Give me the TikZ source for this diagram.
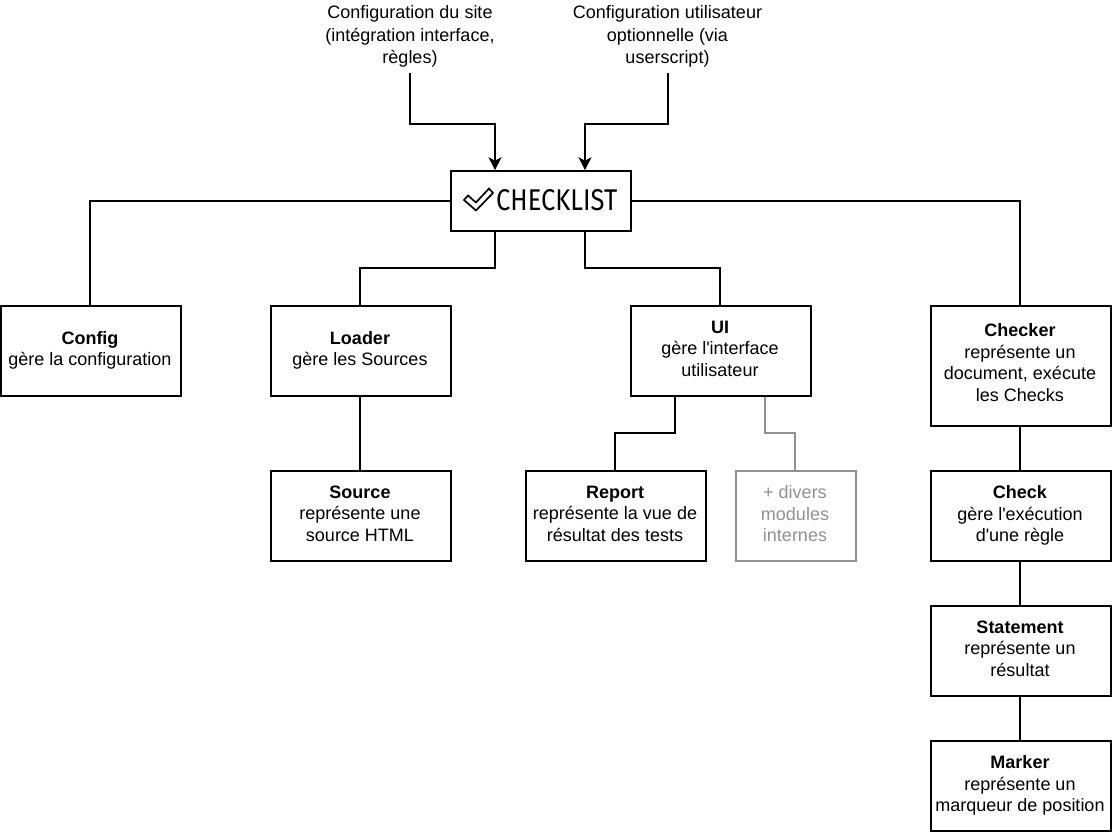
\documentclass[tikz,border=0pt]{standalone}
\usepackage{fontspec}
\setmainfont{Liberation Sans}
\newfontfamily\logofont{Fira Sans}
\usetikzlibrary{arrows.meta,calc}
\definecolor{mutedgray}{RGB}{145,145,145}
\newcommand{\liftfive}{\\[-16.6pt]\mbox{}}
\newcommand{\liftseven}{\\[-14.6pt]\mbox{}}
\tikzset{
  x=1pt,y=-1pt,
  modbox/.style={draw=black,line width=1.6pt,fill=white,minimum width=180pt,minimum height=90pt,text width=180pt,align=center,inner sep=0pt,font=\fontsize{18pt}{21.6pt}\selectfont,text=black,execute at begin node={\centering\rightskip=2pt plus 1fil\relax\spaceskip=0pt\relax\xspaceskip=0pt\relax}},
  mutedbox/.style={modbox,draw=mutedgray,text=mutedgray,minimum width=120pt,text width=120pt},
  link/.style={draw=black,line width=1.6pt},
  mutedlink/.style={draw=mutedgray,line width=1.6pt},
  inarrow/.style={link,-{Stealth[length=13pt,width=13pt,inset=3.5pt]}},
  caption/.style={align=center,inner sep=0pt,font=\fontsize{18pt}{22.3pt}\selectfont,text=black},
}
\begin{document}
\begin{tikzpicture}
\useasboundingbox (0,0) rectangle (1112,832);
\fill[white] (0,0) rectangle (1112,832);

\node[caption] (siteconf) at (410,36.5) {Configuration du site\\(intégration interface,\\règles)};
\node[caption] (userconf) at (667.5,36.5) {Configuration utilisateur\\optionnelle (via\\userscript)};

\node[modbox,minimum height=60pt] (checklist) at (541,201) {};
\node[inner sep=0pt,anchor=west] (logotext) at (496,200.5) {\resizebox{121pt}{21pt}{\logofont CHECKLIST}};
\draw[line width=1.7pt,line join=miter] (464,200) -- (468,195.5) -- (476,202.5) -- (489,188.5) -- (493,193) -- (476,210.5) -- cycle;

\node[modbox] (config) at (91,351) {\textbf{Config}\\gère la configuration\liftfive};
\node[modbox] (loader) at (361,351) {\textbf{Loader}\\gère les Sources\liftfive};
\node[modbox] (ui) at (721,351) {\textbf{UI}\\gère l\textquotesingle interface\\utilisateur\liftfive};
\node[modbox,minimum height=120pt] (checker) at (1021,366) {\textbf{Checker}\\représente un\\document, exécute\\les Checks\liftseven};
\node[modbox] (source) at (361,516) {\textbf{Source}\\représente une\\source HTML\liftfive};
\node[modbox] (report) at (616,516) {\textbf{Report}\\représente la vue de\\résultat des tests\liftfive};
\node[mutedbox] (divers) at (796,516) {+ divers\\modules\\internes\liftfive};
\node[modbox] (check) at (1021,516) {\textbf{Check}\\gère l\textquotesingle exécution\\d\textquotesingle une règle\liftfive};
\node[modbox] (statement) at (1021,651) {\textbf{Statement}\\représente un\\résultat\liftfive};
\node[modbox] (marker) at (1021,786) {\textbf{Marker}\\représente un\\marqueur de position\liftfive};

\coordinate (siteout) at (410,73);
\coordinate (userout) at (668,73);
\coordinate (inleft) at ($(checklist.north)+(-46,0)$);
\coordinate (inright) at ($(checklist.north)+(44,0)$);
\coordinate (outleft) at ($(checklist.south)+(-46,0)$);
\coordinate (outright) at ($(checklist.south)+(44,0)$);
\coordinate (uileft) at ($(ui.south)+(-46,0)$);
\coordinate (uiright) at ($(ui.south)+(44,0)$);
\coordinate (confign) at ($(config.north)+(-1,0)$);
\coordinate (checkern) at ($(checker.north)+(-1,0)$);
\coordinate (checkers) at ($(checker.south)+(-1,0)$);
\coordinate (loadern) at ($(loader.north)+(-1,0)$);
\coordinate (loaders) at ($(loader.south)+(-1,0)$);
\coordinate (uin) at ($(ui.north)+(-1,0)$);
\coordinate (sourcen) at ($(source.north)+(-1,0)$);
\coordinate (reportn) at ($(report.north)+(-1,0)$);
\coordinate (diversn) at ($(divers.north)+(-1,0)$);
\coordinate (checkn) at ($(check.north)+(-1,0)$);
\coordinate (checks) at ($(check.south)+(-1,0)$);
\coordinate (statementn) at ($(statement.north)+(-1,0)$);
\coordinate (statements) at ($(statement.south)+(-1,0)$);
\coordinate (markern) at ($(marker.north)+(-1,0)$);

\draw[inarrow] (siteout) |- (inleft |- 0,124) -- (inleft);
\draw[inarrow] (userout) |- (inright |- 0,124) -- (inright);

\draw[link] (checklist.west) -| (confign);
\draw[link] (checklist.east) -| (checkern);
\draw[link] (outleft) |- (loadern |- 0,268) -- (loadern);
\draw[link] (outright) |- (uin |- 0,268) -- (uin);
\draw[link] (loaders) -- (sourcen);
\draw[link] (uileft) |- (reportn |- 0,433) -- (reportn);
\draw[mutedlink] (uiright) |- (diversn |- 0,433) -- (diversn);
\draw[link] (checkers) -- (checkn);
\draw[link] (checks) -- (statementn);
\draw[link] (statements) -- (markern);
\end{tikzpicture}
\end{document}
